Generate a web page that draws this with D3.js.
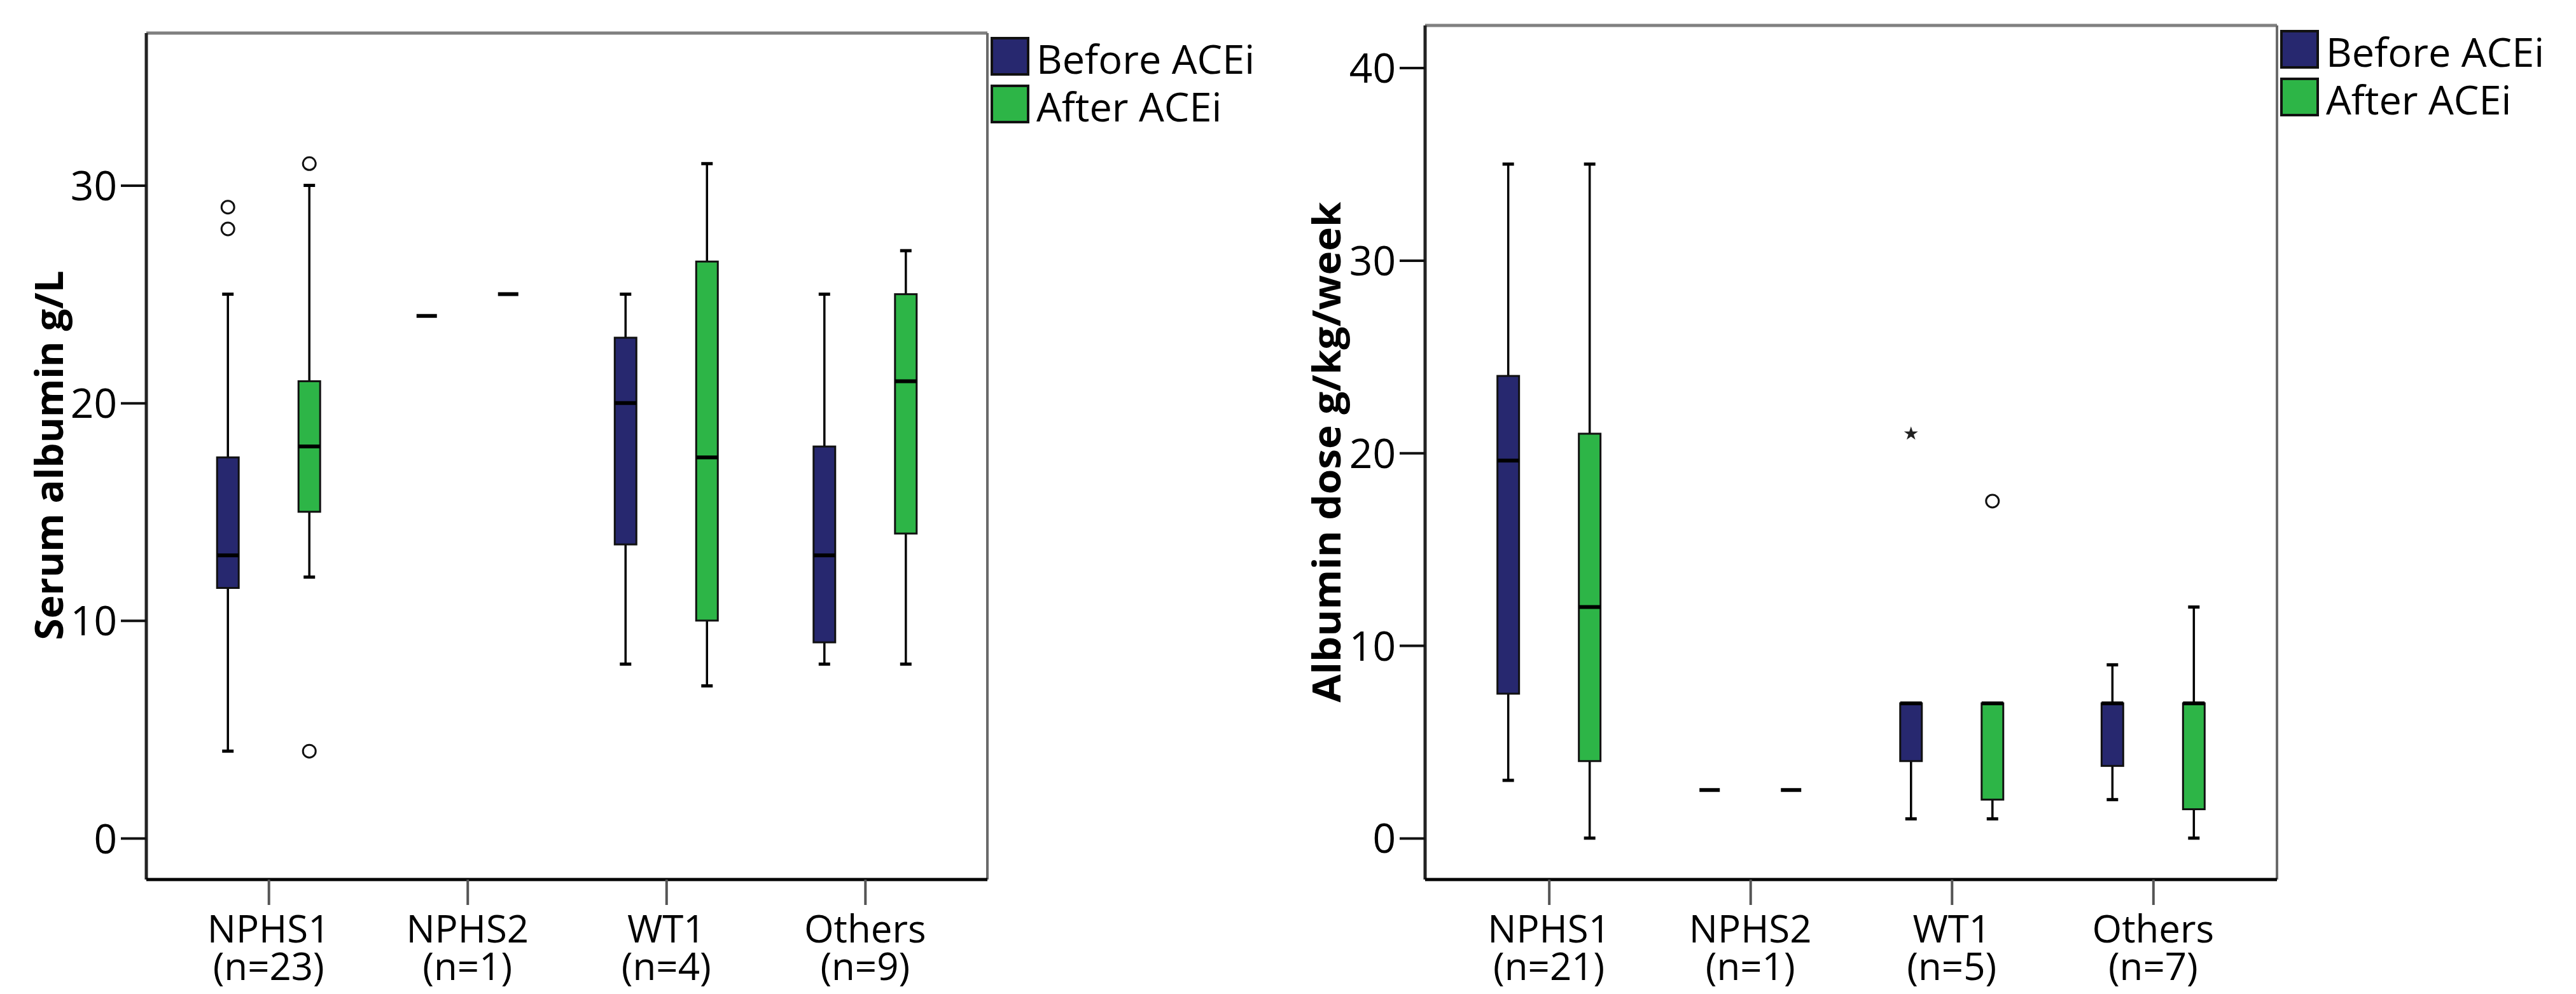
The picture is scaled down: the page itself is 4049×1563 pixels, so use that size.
<!DOCTYPE html>
<html>
<head>
<meta charset="utf-8">
<script src="https://cdn.jsdelivr.net/npm/d3@7"></script>
<style>
  body { margin: 0; background: #fff; }
  text { font-family: "Open Sans", "Noto Sans", sans-serif; fill: #000; }
</style>
</head>
<body>
<script>
// categories and group sizes
var genes = ["NPHS1", "NPHS2", "WT1", "Others"];
var albN = ["(n=23)", "(n=1)", "(n=4)", "(n=9)"];
var doseN = ["(n=21)", "(n=1)", "(n=5)", "(n=7)"];
var seriesNames = ["Before ACEi", "After ACEi"];

// box stats: [min whisker, Q1, median, Q3, max whisker]
var albBefore = [[4, 11.5, 13, 17.5, 25], [24, 24, 24, 24, 24], [8, 13.5, 20, 23, 25], [8, 9, 13, 18, 25]];
var albAfter = [[12, 15, 18, 21, 30], [25, 25, 25, 25, 25], [7, 10, 17.5, 26.5, 31], [8, 14, 21, 25, 27]];
var albBeforeOut = [[28, 29], [], [], []];
var albAfterOut = [[31, 4], [], [], []];

var doseBefore = [[3, 7.5, 19.6, 24, 35], [2.5, 2.5, 2.5, 2.5, 2.5], [1, 4, 7, 7, 7], [2, 3.75, 7, 7, 9]];
var doseAfter = [[0, 4, 12, 21, 35], [2.5, 2.5, 2.5, 2.5, 2.5], [1, 2, 7, 7, 7], [0, 1.5, 7, 7, 12]];
var doseBeforeOut = [[], [], [], []];
var doseAfterOut = [[], [], [17.5], []];
var doseBeforeExtreme = [[], [], [21], []];
var doseAfterExtreme = [[], [], [], []];

var albTicks = [0, 10, 20, 30];
var doseTicks = [0, 10, 20, 30, 40];

var colors = ["#27286f", "#2db547"];

var svg = d3.select("body").append("svg")
    .attr("width", 4049)
    .attr("height", 1563);

var panels = [
  {
    left: 230, right: 1552, top: 52, bottom: 1383,
    domain: [-1.9, 37], ticks: albTicks, nLabels: albN,
    title: "Serum albumin g/L", titleX: 78, titleY: 716, titleLen: 581,
    before: albBefore, after: albAfter,
    outs: [albBeforeOut, albAfterOut],
    extremes: [[[], [], [], []], [[], [], [], []]],
    legendY: 60
  },
  {
    left: 2240, right: 3579, top: 40, bottom: 1383,
    domain: [-2.15, 42.2], ticks: doseTicks, nLabels: doseN,
    title: "Albumin dose g/kg/week", titleX: 2086, titleY: 711, titleLen: 787,
    before: doseBefore, after: doseAfter,
    outs: [doseBeforeOut, doseAfterOut],
    extremes: [doseBeforeExtreme, doseAfterExtreme],
    legendY: 49
  }
];

var boxW = 34, offset = 64, capW = 18;

panels.forEach(function (p) {
  var g = svg.append("g");
  var x = d3.scalePoint().domain(genes).range([p.left, p.right]).padding(0.615);
  var y = d3.scaleLinear().domain(p.domain).range([p.bottom, p.top]);

  // frame: top/right grey, left/bottom dark
  g.append("line").attr("x1", p.left).attr("x2", p.right).attr("y1", p.top).attr("y2", p.top)
      .attr("stroke", "#808080").attr("stroke-width", 5);
  g.append("line").attr("x1", p.right).attr("x2", p.right).attr("y1", p.top).attr("y2", p.bottom)
      .attr("stroke", "#6a6a6a").attr("stroke-width", 4);

  // y axis
  var yAxis = d3.axisLeft(y).tickValues(p.ticks).tickSize(40).tickPadding(6);
  var ya = g.append("g").attr("transform", "translate(" + p.left + ",0)").call(yAxis);
  ya.select(".domain").attr("stroke", "#222").attr("stroke-width", 5)
      .attr("d", "M0," + p.top + "V" + p.bottom);
  ya.selectAll(".tick line").attr("stroke", "#111").attr("stroke-width", 4);
  ya.selectAll(".tick text").attr("font-size", 64).attr("font-family", "Open Sans")
      .attr("dy", "0.36em");

  // x axis
  var xAxis = d3.axisBottom(x).tickSize(40).tickFormat("");
  var xa = g.append("g").attr("transform", "translate(0," + p.bottom + ")").call(xAxis);
  xa.select(".domain").attr("stroke", "#000").attr("stroke-width", 5)
      .attr("d", "M" + p.left + ",0H" + p.right);
  xa.selectAll(".tick line").attr("stroke", "#555").attr("stroke-width", 4);

  genes.forEach(function (c, i) {
    g.append("text").attr("text-anchor", "middle").attr("font-size", 60)
        .attr("x", x(c)).attr("y", 1482).text(c);
    g.append("text").attr("text-anchor", "middle").attr("font-size", 60)
        .attr("x", x(c)).attr("y", 1541).text(p.nLabels[i]);
  });

  // y title
  g.append("text")
      .attr("transform", "translate(" + p.titleX + "," + p.titleY + ") rotate(-90)")
      .attr("text-anchor", "middle")
      .attr("dy", "0.35em")
      .attr("font-size", 61)
      .attr("font-weight", "bold")
      .attr("textLength", p.titleLen)
      .attr("lengthAdjust", "spacingAndGlyphs")
      .text(p.title);

  // boxes
  [p.before, p.after].forEach(function (series, si) {
    series.forEach(function (s, i) {
      var cx = x(genes[i]) + (si === 0 ? -offset : offset);
      var bg = g.append("g");
      if (s[0] === s[4]) {
        bg.append("line").attr("x1", cx - 16).attr("x2", cx + 16)
            .attr("y1", y(s[2])).attr("y2", y(s[2]))
            .attr("stroke", "#000").attr("stroke-width", 6);
        return;
      }
      // whiskers
      [[s[0], s[1]], [s[3], s[4]]].forEach(function (w) {
        if (w[0] === w[1]) return;
        var end = w[0] === s[0] ? w[0] : w[1];
        bg.append("line").attr("x1", cx).attr("x2", cx)
            .attr("y1", y(w[0])).attr("y2", y(w[1]))
            .attr("stroke", "#000").attr("stroke-width", 3.5);
        bg.append("line").attr("x1", cx - capW / 2).attr("x2", cx + capW / 2)
            .attr("y1", y(end)).attr("y2", y(end))
            .attr("stroke", "#000").attr("stroke-width", 5);
      });
      bg.append("rect")
          .attr("x", cx - boxW / 2).attr("width", boxW)
          .attr("y", y(s[3])).attr("height", y(s[1]) - y(s[3]))
          .attr("fill", colors[si]).attr("stroke", "#111").attr("stroke-width", 3);
      bg.append("line").attr("x1", cx - boxW / 2).attr("x2", cx + boxW / 2)
          .attr("y1", y(s[2])).attr("y2", y(s[2]))
          .attr("stroke", "#000").attr("stroke-width", 6);
    });
  });

  // outliers
  p.outs.forEach(function (series, si) {
    series.forEach(function (vals, i) {
      var cx = x(genes[i]) + (si === 0 ? -offset : offset);
      vals.forEach(function (v) {
        g.append("circle").attr("cx", cx).attr("cy", y(v)).attr("r", 10)
            .attr("fill", "none").attr("stroke", "#111").attr("stroke-width", 3);
      });
    });
  });
  p.extremes.forEach(function (series, si) {
    series.forEach(function (vals, i) {
      var cx = x(genes[i]) + (si === 0 ? -offset : offset);
      vals.forEach(function (v) {
        g.append("path")
            .attr("d", d3.symbol().type(d3.symbolStar).size(150)())
            .attr("transform", "translate(" + cx + "," + y(v) + ")")
            .attr("fill", "#222");
      });
    });
  });

  // legend
  var lg = g.append("g").attr("transform", "translate(" + (p.right + 7) + "," + p.legendY + ")");
  seriesNames.forEach(function (name, i) {
    lg.append("rect").attr("x", 0).attr("y", i * 75).attr("width", 57).attr("height", 57)
        .attr("fill", colors[i]).attr("stroke", "#111").attr("stroke-width", 4);
    lg.append("text").attr("x", 70).attr("y", i * 75 + 56)
        .attr("font-size", 63).text(name);
  });
});
</script>
</body>
</html>
